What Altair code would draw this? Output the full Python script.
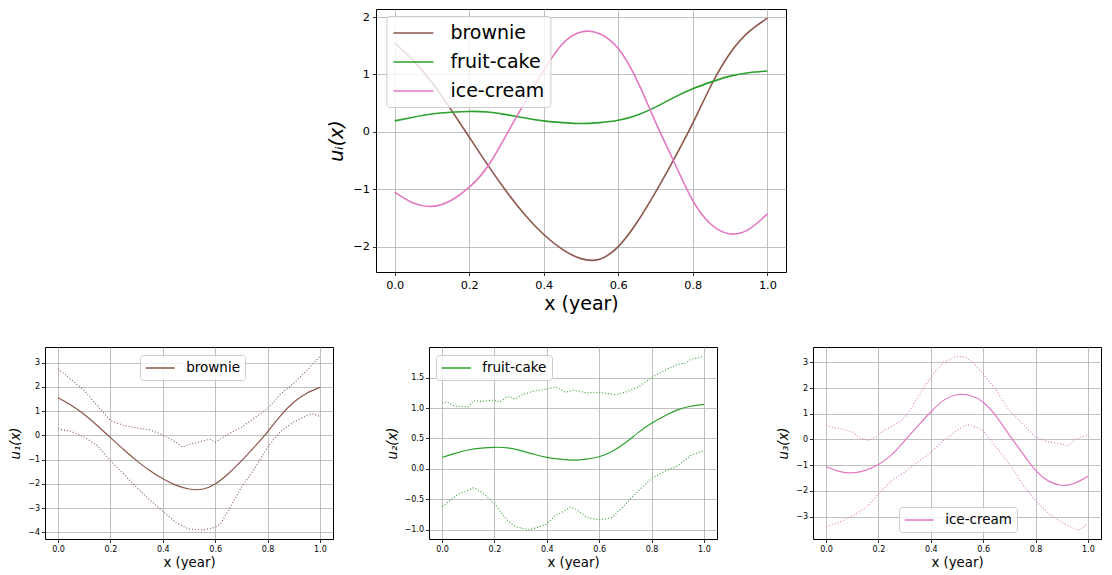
import altair as alt
import pandas as pd

FONT = "DejaVu Sans"
NAMES = ["brownie", "fruit-cake", "ice-cream"]
COLORS = ["#8c564b", "#2ca02c", "#e377c2"]

X_GRID = [0.0, 0.05, 0.1, 0.15, 0.2, 0.25, 0.3, 0.35, 0.4, 0.45, 0.5,
          0.55, 0.6, 0.65, 0.7, 0.75, 0.8, 0.85, 0.9, 0.95, 1.0]
BROWNIE_MEAN = [1.55, 1.24, 0.86, 0.40, -0.09, -0.58, -1.04, -1.45, -1.79, -2.05, -2.21,
                -2.22, -2.0, -1.58, -1.05, -0.47, 0.15, 0.82, 1.37, 1.74, 1.98]
FRUIT_MEAN = [0.19, 0.255, 0.31, 0.34, 0.355, 0.345, 0.30, 0.24, 0.19, 0.16, 0.145,
              0.16, 0.20, 0.29, 0.43, 0.60, 0.75, 0.87, 0.97, 1.03, 1.06]
ICE_MEAN = [-1.05, -1.24, -1.30, -1.20, -0.97, -0.60, -0.05, 0.52, 1.07, 1.53, 1.74,
            1.71, 1.45, 0.90, 0.17, -0.53, -1.20, -1.62, -1.78, -1.70, -1.43]

BROWNIE_UP_X = [0.0, 0.1, 0.15, 0.2, 0.25, 0.3, 0.35, 0.4, 0.45, 0.475, 0.5, 0.55, 0.58, 0.6,
                0.65, 0.7, 0.75, 0.8, 0.85, 0.9, 0.95, 1.0]
BROWNIE_UP_Y = [2.75, 1.85, 1.23, 0.61, 0.41, 0.31, 0.23, 0.02, -0.28, -0.48, -0.38, -0.24, -0.16,
                -0.28, 0.06, 0.34, 0.72, 1.10, 1.71, 2.15, 2.68, 3.26]
BROWNIE_LO_X = [0.0, 0.05, 0.1, 0.15, 0.2, 0.25, 0.3, 0.35, 0.4, 0.45, 0.5, 0.55, 0.6, 0.62,
                0.65, 0.7, 0.75, 0.8, 0.85, 0.9, 0.95, 0.975, 1.0]
BROWNIE_LO_Y = [0.27, 0.17, -0.07, -0.42, -1.04, -1.59, -2.14, -2.66, -3.13, -3.59, -3.86, -3.90,
                -3.79, -3.66, -3.10, -2.14, -1.38, -0.49, 0.17, 0.55, 0.82, 0.89, 0.78]

FRUIT_UP_X = [0.0, 0.02, 0.04, 0.06, 0.1, 0.12, 0.15, 0.2, 0.22, 0.25, 0.28, 0.3, 0.35, 0.4,
              0.43, 0.45, 0.47, 0.5, 0.52, 0.55, 0.6, 0.63, 0.66, 0.7, 0.75, 0.8, 0.85, 0.9,
              0.93, 0.95, 1.0]
FRUIT_UP_Y = [1.08, 1.10, 1.04, 1.03, 1.02, 1.12, 1.11, 1.13, 1.10, 1.19, 1.15, 1.21, 1.28, 1.31,
              1.35, 1.31, 1.26, 1.29, 1.28, 1.25, 1.26, 1.24, 1.22, 1.26, 1.35, 1.50, 1.62, 1.72,
              1.74, 1.80, 1.85]
FRUIT_LO_X = [0.0, 0.03, 0.06, 0.09, 0.12, 0.15, 0.18, 0.2, 0.23, 0.25, 0.28, 0.3, 0.33, 0.36,
              0.4, 0.43, 0.46, 0.49, 0.51, 0.55, 0.6, 0.65, 0.7, 0.75, 0.8, 0.85, 0.9, 0.95, 1.0]
FRUIT_LO_Y = [-0.62, -0.52, -0.42, -0.37, -0.31, -0.38, -0.49, -0.58, -0.74, -0.85, -0.95, -0.97,
              -1.0, -0.97, -0.91, -0.77, -0.71, -0.63, -0.66, -0.79, -0.84, -0.80, -0.58, -0.36,
              -0.16, -0.04, 0.05, 0.22, 0.30]

ICE_UP_X = [0.0, 0.03, 0.07, 0.1, 0.13, 0.16, 0.19, 0.22, 0.25, 0.28, 0.31, 0.35, 0.4, 0.45,
            0.5, 0.53, 0.56, 0.6, 0.65, 0.7, 0.75, 0.8, 0.85, 0.9, 0.92, 0.95, 1.0]
ICE_UP_Y = [0.55, 0.45, 0.38, 0.29, 0.06, -0.04, 0.09, 0.35, 0.51, 0.68, 0.97, 1.65, 2.43, 3.01,
            3.23, 3.21, 3.01, 2.56, 1.91, 1.13, 0.61, 0.09, -0.10, -0.17, -0.27, -0.01, 0.19]
ICE_LO_X = [0.0, 0.05, 0.1, 0.15, 0.2, 0.25, 0.3, 0.35, 0.4, 0.45, 0.5, 0.54, 0.58, 0.6, 0.65,
            0.7, 0.75, 0.8, 0.85, 0.9, 0.95, 0.97, 1.0]
ICE_LO_Y = [-3.39, -3.22, -2.96, -2.68, -2.12, -1.60, -1.27, -0.88, -0.49, -0.04, 0.35, 0.58,
            0.45, 0.35, -0.30, -0.95, -1.73, -2.38, -2.87, -3.22, -3.48, -3.52, -3.26]

X_TICKS = [0.0, 0.2, 0.4, 0.6, 0.8, 1.0]
PANEL_W = 288
COL_GAP = 96
TOP_W = 410
TOP_H = 263
LEAD_W = 331


def axis(title, values, fmt, label_size, title_size, label_pad, title_pad, italic=False):
    kw = dict(
        title=title, values=values, format=fmt, grid=True, gridColor="#b0b0b0",
        gridWidth=0.8, tickColor="black", tickSize=3.5, tickWidth=0.8, domain=False,
        labelColor="black", labelFont=FONT, labelFontSize=label_size, labelFlush=False,
        labelOverlap=False, labelPadding=label_pad, titleFont=FONT, titleFontSize=title_size,
        titleFontWeight="normal", titleColor="black", titlePadding=title_pad,
    )
    if italic:
        kw["titleFontStyle"] = "italic"
    return alt.Axis(**kw)


def legend(lx, ly, font_size, sym_len, gap, pad, row_pad):
    half = sym_len / 2.0
    return alt.Legend(
        orient="none", legendX=lx, legendY=ly, symbolType="M-2,0H2",
        symbolSize=half * half, symbolOffset=half / 2.0, symbolStrokeWidth=1.5,
        labelFont=FONT, labelFontSize=font_size, labelColor="black",
        labelOffset=gap + sym_len / 4.0, fillColor="rgba(255,255,255,0.8)",
        strokeColor="#cccccc", cornerRadius=3, padding=pad, rowPadding=row_pad,
    )


# ---------- top panel ----------
top_rows = []
for name, ys in zip(NAMES, [BROWNIE_MEAN, FRUIT_MEAN, ICE_MEAN]):
    for xv, yv in zip(X_GRID, ys):
        top_rows.append({"x": xv, "y": yv, "series": name})
top_df = pd.DataFrame(top_rows)

top = alt.Chart(top_df).mark_line(strokeWidth=1.6, interpolate="natural", clip=True).encode(
    x=alt.X("x:Q", scale=alt.Scale(domain=[-0.05, 1.05], nice=False, zero=False),
            axis=axis("x (year)", X_TICKS, ".1f", 11.3, 19, 4, 4)),
    y=alt.Y("y:Q", scale=alt.Scale(domain=[-2.443, 2.14], nice=False, zero=False),
            axis=axis("uᵢ(x)", [-2, -1, 0, 1, 2], "d", 11.3, 19, 3, 6, italic=True)),
    color=alt.Color("series:N", title=None,
                    scale=alt.Scale(domain=NAMES, range=COLORS),
                    legend=legend(10.4, 7, 19, 40, 16, 6, 8)),
).properties(width=TOP_W, height=TOP_H)


# ---------- bottom panels ----------
def panel(name, color, mean, up_x, up_y, lo_x, lo_y, ydom, yvals, yfmt, ytitle, lx, ly):
    mdf = pd.DataFrame({"x": X_GRID, "y": mean, "series": name})
    brows = [{"x": a, "y": b, "band": "upper"} for a, b in zip(up_x, up_y)]
    brows += [{"x": a, "y": b, "band": "lower"} for a, b in zip(lo_x, lo_y)]
    bdf = pd.DataFrame(brows)
    xs = alt.Scale(domain=[-0.05, 1.05], nice=False, zero=False)
    ys = alt.Scale(domain=ydom, nice=False, zero=False)
    xax = axis("x (year)", X_TICKS, ".1f", 8, 13.3, 3, 2)
    yax = axis(ytitle, yvals, yfmt, 8, 13.3, 2, 5, italic=True)
    bands = alt.Chart(bdf).mark_line(strokeWidth=1.1, strokeDash=[1, 2], color=color, clip=True).encode(
        x=alt.X("x:Q", scale=xs, axis=xax),
        y=alt.Y("y:Q", scale=ys, axis=yax),
        detail="band:N",
    )
    line = alt.Chart(mdf).mark_line(strokeWidth=1.2, interpolate="natural", clip=True).encode(
        x=alt.X("x:Q", scale=xs, axis=xax),
        y=alt.Y("y:Q", scale=ys, axis=yax),
        color=alt.Color("series:N", title=None,
                        scale=alt.Scale(domain=[name], range=[color]),
                        legend=legend(lx, ly, 13.5, 29, 10.7, 5, 4)),
    )
    return alt.layer(bands, line).properties(width=PANEL_W, height=192)


p1 = panel("brownie", COLORS[0], BROWNIE_MEAN, BROWNIE_UP_X, BROWNIE_UP_Y, BROWNIE_LO_X,
           BROWNIE_LO_Y, [-4.27, 3.645], [-4, -3, -2, -1, 0, 1, 2, 3], "d", "u₁(x)", 95, 8)
p2 = panel("fruit-cake", COLORS[1], FRUIT_MEAN, FRUIT_UP_X, FRUIT_UP_Y, FRUIT_LO_X,
           FRUIT_LO_Y, [-1.153, 2.004], [-1.0, -0.5, 0.0, 0.5, 1.0, 1.5], ".1f", "u₂(x)", 7, 8)
p3 = panel("ice-cream", COLORS[2], ICE_MEAN, ICE_UP_X, ICE_UP_Y, ICE_LO_X,
           ICE_LO_Y, [-3.87, 3.596], [-3, -2, -1, 0, 1, 2, 3], "d", "u₃(x)", 86, 160)


def spacer(w, h):
    return alt.Chart(pd.DataFrame({"a": [0]})).mark_point(opacity=0).properties(
        width=w, height=h, view=alt.ViewBackground(strokeOpacity=0)
    )


row1 = alt.hconcat(spacer(LEAD_W, TOP_H), top, spacing=0, bounds="flush").resolve_scale(
    color="independent")
row2 = alt.hconcat(p1, p2, p3, spacing=COL_GAP, bounds="flush").resolve_scale(color="independent")

chart = alt.vconcat(row1, row2, spacing=31, bounds="full").resolve_scale(
    color="independent"
).properties(
    padding={"left": 0, "top": 0, "right": 0, "bottom": 0},
    background="white",
).configure_view(stroke="black", strokeWidth=1)

chart.save("out.html", embed_options={"renderer": "svg", "actions": False})
